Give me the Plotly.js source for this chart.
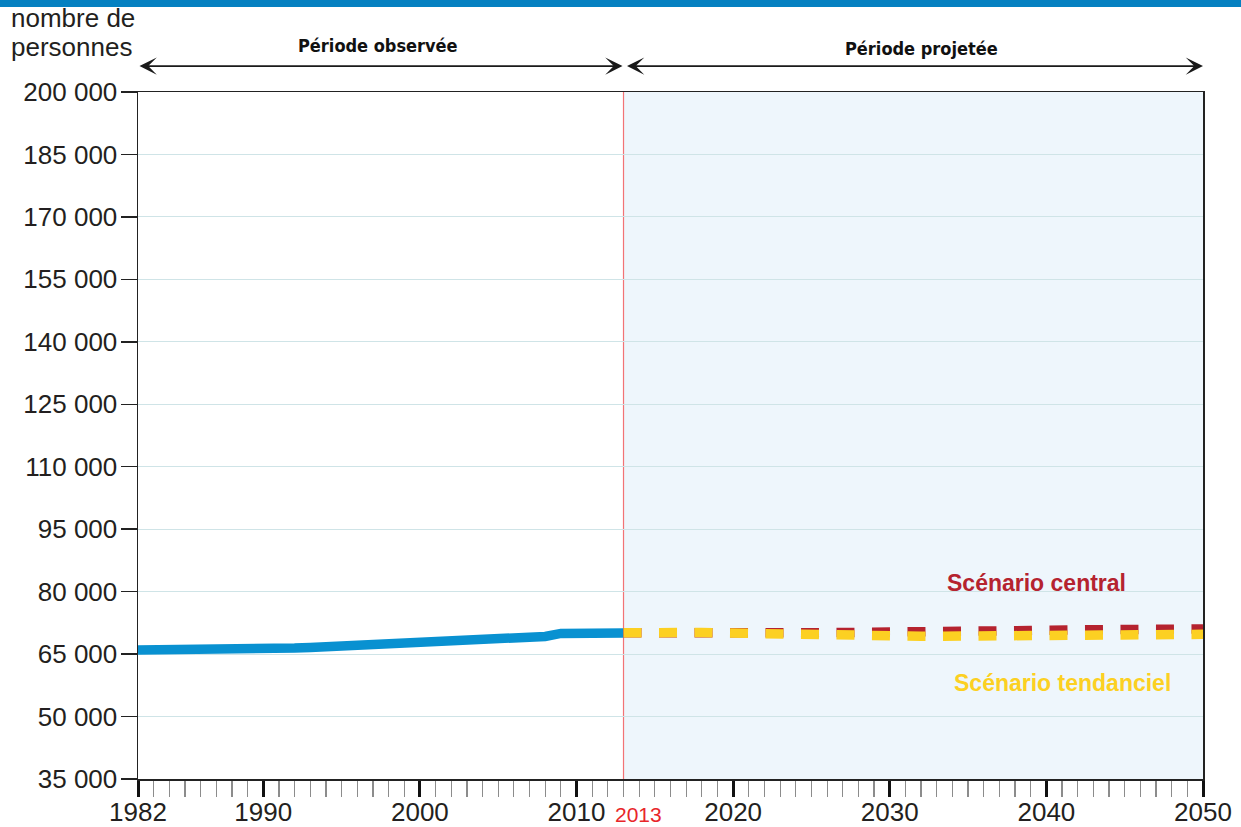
<!DOCTYPE html>
<html>
<head>
<meta charset="utf-8">
<script src="https://cdn.plot.ly/plotly-3.0.1.min.js"></script>
<style>html,body{margin:0;padding:0;background:#fff;}#chart{width:1241px;height:827px;}</style>
</head>
<body>
<div id="chart"></div>
<script>
// Observed period
var obsYears = [1982,1983,1984,1985,1986,1987,1988,1989,1990,1991,1992,1993,1994,1995,1996,1997,1998,1999,2000,2001,2002,2003,2004,2005,2006,2007,2008,2009,2010,2011,2012,2013];
var obsValues = [65960,65960,65900,65960,65960,66040,66120,66060,66120,66280,66440,66600,66760,66920,67000,67160,67320,67480,67640,67880,68120,68360,68600,68840,69080,69160,69240,69960,70120,70200,70200,70060];

// Projected period
var projYears = [2013,2014,2015,2016,2017,2018,2019,2020,2021,2022,2023,2024,2025,2026,2027,2028,2029,2030,2031,2032,2033,2034,2035,2036,2037,2038,2039,2040,2041,2042,2043,2044,2045,2046,2047,2048,2049,2050];
var centralValues = [70100,70150,70250,70300,70350,70350,70350,70300,70250,70200,70150,70150,70100,70100,70100,70100,70100,70100,70100,70150,70250,70350,70400,70450,70500,70600,70650,70750,70800,70850,70900,70900,70950,70950,71000,71000,71050,71050];
var tendancielValues = [70100,70200,70300,70300,70250,70200,70100,70000,69950,69900,69850,69800,69700,69650,69600,69550,69500,69400,69350,69300,69300,69350,69450,69550,69600,69650,69700,69750,69750,69750,69750,69750,69750,69750,69750,69750,69750,69750];

var xTickVals = [1982,1990,2000,2010,2020,2030,2040,2050];
var yTickVals = [35000,50000,65000,80000,95000,110000,125000,140000,155000,170000,185000,200000];

var labelObs = "Période observée";
var labelProj = "Période projetée";
var labelCentral = "Scénario central";
var labelTend = "Scénario tendanciel";
var startProj = 2013;

var txt = '#231f20';
var baseFont = 'Liberation Sans, Arial, sans-serif';
var condFont = 'DejaVu Sans Condensed, Liberation Sans Narrow, sans-serif';

var traces = [
  {x: obsYears, y: obsValues, mode: 'lines', line: {color: '#0991d1', width: 9.5}, hoverinfo: 'skip'},
  {x: projYears, y: centralValues, mode: 'lines', line: {color: '#b5232f', width: 9.5, dash: '18px,17.5px'}, hoverinfo: 'skip'},
  {x: projYears, y: tendancielValues, mode: 'lines', line: {color: '#fcd022', width: 9.5, dash: '18px,17.5px'}, hoverinfo: 'skip'}
];

var layout = {
  width: 1241, height: 827,
  margin: {l: 138, r: 38, t: 92, b: 48},
  paper_bgcolor: '#ffffff', plot_bgcolor: '#ffffff',
  showlegend: false,
  separators: ', ',
  font: {family: baseFont, color: txt, size: 26},
  xaxis: {
    range: [1982, 2050], tickmode: 'array', tickvals: xTickVals,
    ticks: 'outside', ticklen: 16, tickwidth: 3, tickcolor: '#111',
    showgrid: false, zeroline: false,
    showline: true, linecolor: '#222', linewidth: 1.5, mirror: true,
    tickfont: {family: baseFont, size: 26, color: txt},
    ticklabelstandoff: -7,
    minor: {tickmode: 'linear', tick0: 1982, dtick: 1, ticks: 'outside', ticklen: 16, tickwidth: 1.2, tickcolor: '#8c8c8c', showgrid: false}
  },
  yaxis: {
    range: [35000, 200000], tickmode: 'array', tickvals: yTickVals, tickformat: ',d',
    ticks: 'outside', ticklen: 16, tickwidth: 1.5, tickcolor: '#222',
    showgrid: true, gridcolor: '#cfe4e7', gridwidth: 1, zeroline: false,
    showline: true, linecolor: '#222', linewidth: 1.5, mirror: true,
    tickfont: {family: baseFont, size: 26, color: txt},
    ticklabelstandoff: -2
  },
  shapes: [
    {type: 'rect', xref: 'x', yref: 'paper', x0: startProj, x1: 2050, y0: 0, y1: 1, fillcolor: '#eef6fc', line: {width: 0}, layer: 'below'},
    {type: 'line', xref: 'x', yref: 'paper', x0: startProj, x1: startProj, y0: 0, y1: 1, line: {color: '#f27376', width: 1.2}, layer: 'between'},
    {type: 'rect', xref: 'paper', yref: 'paper', ysizemode: 'pixel', yanchor: 1, x0: -0.2, x1: 1.2, y0: 85, y1: 93, fillcolor: '#0581c1', line: {width: 0}}
  ],
  annotations: [
    {xref: 'paper', yref: 'paper', x: -0.121, y: 1.108, xanchor: 'left', yanchor: 'middle', text: 'nombre de', showarrow: false, font: {family: baseFont, size: 26, color: txt}},
    {xref: 'paper', yref: 'paper', x: -0.121, y: 1.065, xanchor: 'left', yanchor: 'middle', text: 'personnes', showarrow: false, font: {family: baseFont, size: 26, color: txt}},
    {xref: 'x', yref: 'paper', x: 1997.3, y: 1.067, xanchor: 'center', yanchor: 'middle', text: '<b>' + labelObs + '</b>', showarrow: false, font: {family: condFont, size: 18, color: '#111'}},
    {xref: 'x', yref: 'paper', x: 2032.0, y: 1.064, xanchor: 'center', yanchor: 'middle', text: '<b>' + labelProj + '</b>', showarrow: false, font: {family: condFont, size: 18, color: '#111'}},
    {xref: 'x', yref: 'paper', x: startProj, y: 1.0378, axref: 'x', ayref: 'pixel', ax: 1982, ay: 0, text: '', showarrow: true,
      arrowside: 'end+start', arrowhead: 3, startarrowhead: 3, arrowsize: 1.6, startarrowsize: 1.6, arrowwidth: 1.8, arrowcolor: '#1a1a1a', standoff: 1, startstandoff: 0},
    {xref: 'x', yref: 'paper', x: 2050, y: 1.0378, axref: 'x', ayref: 'pixel', ax: startProj, ay: 0, text: '', showarrow: true,
      arrowside: 'end+start', arrowhead: 3, startarrowhead: 3, arrowsize: 1.6, startarrowsize: 1.6, arrowwidth: 1.8, arrowcolor: '#1a1a1a', standoff: 0, startstandoff: 2},
    {xref: 'x', yref: 'y', x: 2039.4, y: 82050, xanchor: 'center', yanchor: 'middle', text: '<b>' + labelCentral + '</b>', showarrow: false, font: {family: baseFont, size: 23, color: '#b5232f'}},
    {xref: 'x', yref: 'y', x: 2041.0, y: 58040, xanchor: 'center', yanchor: 'middle', text: '<b>' + labelTend + '</b>', showarrow: false, font: {family: baseFont, size: 23, color: '#fcd022'}},
    {xref: 'x', yref: 'paper', x: startProj, y: -0.0524, xanchor: 'left', xshift: -11, yanchor: 'middle', text: String(startProj), showarrow: false, font: {family: baseFont, size: 21, color: '#e8262a'}}
  ]
};

Plotly.newPlot('chart', traces, layout, {displayModeBar: false, staticPlot: true});
</script>
</body>
</html>
